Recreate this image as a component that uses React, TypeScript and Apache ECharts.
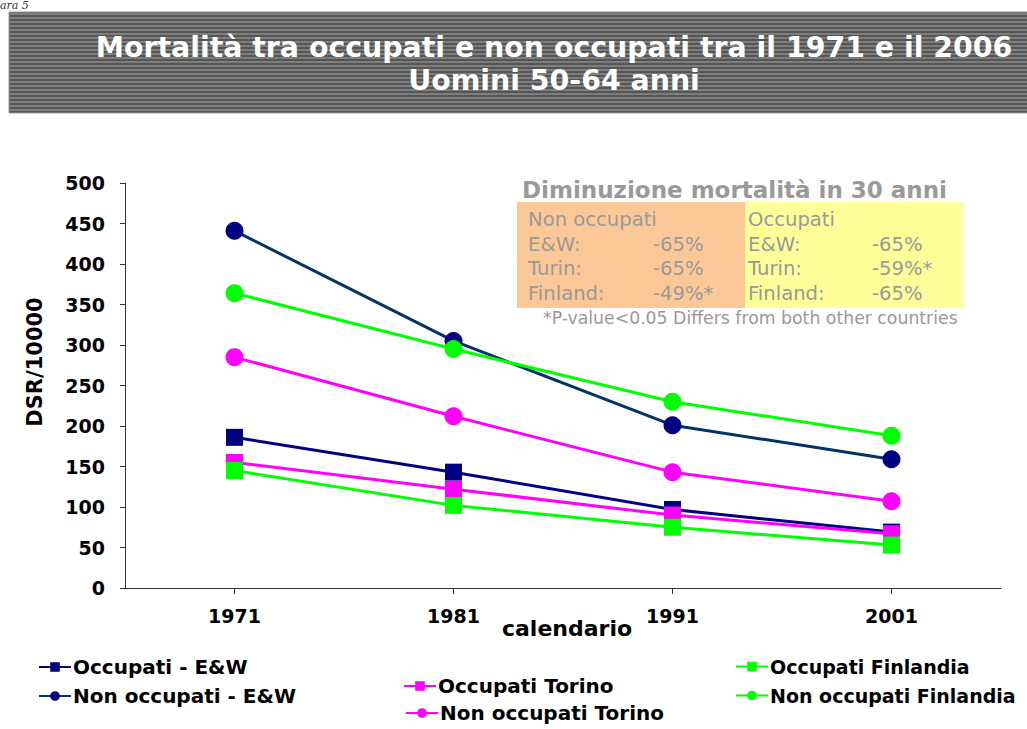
import React, { useEffect, useRef } from 'react';
import * as echarts from 'echarts';

const categories = ['1971', '1981', '1991', '2001'];
const occupatiEW = [186, 143, 97, 69];
const nonOccupatiEW = [441, 305, 201, 159];
const occupatiTorino = [155, 122, 90, 67];
const nonOccupatiTorino = [285, 212, 143, 107];
const occupatiFinlandia = [145, 102, 75, 53];
const nonOccupatiFinlandia = [364, 295, 230, 188];

const titleLines = ['Mortalità tra occupati e non occupati tra il 1971 e il 2006', 'Uomini 50-64 anni'];
const boxTitle = 'Diminuzione mortalità in 30 anni';
const nonOccHeader = 'Non occupati';
const occHeader = 'Occupati';
const countryLabels = ['E&W:', 'Turin:', 'Finland:'];
const nonOccChanges = ['-65%', '-65%', '-49%*'];
const occChanges = ['-65%', '-59%*', '-65%'];
const footnote = '*P-value<0.05 Differs from both other countries';

const FONT = '"DejaVu Sans", Verdana, sans-serif';

export default function App() {
  const ref = useRef<HTMLDivElement>(null);
  useEffect(() => {
    if (!ref.current) return;
    const chart = echarts.init(ref.current, null, { renderer: 'svg' });

    const series = [
      { name: 'Occupati - E&W', data: occupatiEW, symbol: 'rect', color: '#000080', line: '#000080' },
      { name: 'Non occupati - E&W', data: nonOccupatiEW, symbol: 'circle', color: '#000080', line: '#003366' },
      { name: 'Occupati Torino', data: occupatiTorino, symbol: 'rect', color: '#FF00FF', line: '#FF00FF' },
      { name: 'Non occupati Torino', data: nonOccupatiTorino, symbol: 'circle', color: '#FF00FF', line: '#FF00FF' },
      { name: 'Occupati Finlandia', data: occupatiFinlandia, symbol: 'rect', color: '#00FF00', line: '#00FF00' },
      { name: 'Non occupati Finlandia', data: nonOccupatiFinlandia, symbol: 'circle', color: '#00FF00', line: '#00FF00' },
    ].map((s) => ({
      type: 'line',
      name: s.name,
      data: s.data,
      symbol: s.symbol,
      symbolSize: s.symbol === 'rect' ? 17 : 18,
      itemStyle: { color: s.color },
      lineStyle: { color: s.line, width: 3 },
    }));

    const legendPos = [
      { name: 'Occupati - E&W', left: 38, top: 657, size: 20 },
      { name: 'Non occupati - E&W', left: 38, top: 686, size: 20 },
      { name: 'Occupati Torino', left: 403, top: 676, size: 20 },
      { name: 'Non occupati Torino', left: 405, top: 703, size: 20 },
      { name: 'Occupati Finlandia', left: 735, top: 657, size: 19 },
      { name: 'Non occupati Finlandia', left: 735, top: 686, size: 19 },
    ];

    const graphic: any[] = [];
    // partial caption at top-left
    graphic.push({
      type: 'text', x: 0, y: 0,
      style: { text: 'ara 5', font: 'italic 11px "DejaVu Serif", serif', fill: '#333' },
    });
    // banner
    graphic.push({
      type: 'rect', shape: { x: 9, y: 12, width: 1030, height: 101 },
      style: { fill: '#555555', stroke: '#9a9a9a', lineWidth: 1 },
    });
    for (let y = 13; y < 112; y += 4) {
      graphic.push({ type: 'rect', shape: { x: 10, y, width: 1020, height: 2 }, style: { fill: '#7e7e7e' } });
    }
    graphic.push({
      type: 'text', x: 554, y: 47,
      style: { text: titleLines[0], font: `bold 28.4px ${FONT}`, fill: '#fff', align: 'center', verticalAlign: 'middle' },
    });
    graphic.push({
      type: 'text', x: 554, y: 80,
      style: { text: titleLines[1], font: `bold 28.4px ${FONT}`, fill: '#fff', align: 'center', verticalAlign: 'middle' },
    });
    // table box
    graphic.push({
      type: 'text', x: 522, y: 190,
      style: { text: boxTitle, font: `bold 23px ${FONT}`, fill: '#999999', verticalAlign: 'middle' },
    });
    graphic.push({ type: 'rect', shape: { x: 517, y: 202, width: 228, height: 106 }, style: { fill: '#FCC898' } });
    graphic.push({ type: 'rect', shape: { x: 745, y: 202, width: 218, height: 106 }, style: { fill: '#FFFF99' } });
    const rowY = [244, 268, 293];
    const TF = `19.6px ${FONT}`;
    graphic.push({
      type: 'text', x: 528, y: 219,
      style: { text: nonOccHeader, font: TF, fill: '#999999', verticalAlign: 'middle' },
    });
    graphic.push({
      type: 'text', x: 748, y: 219,
      style: { text: occHeader, font: TF, fill: '#999999', verticalAlign: 'middle' },
    });
    countryLabels.forEach((c, i) => {
      graphic.push({ type: 'text', x: 528, y: rowY[i], style: { text: c, font: TF, fill: '#999999', verticalAlign: 'middle' } });
      graphic.push({ type: 'text', x: 653, y: rowY[i], style: { text: nonOccChanges[i], font: TF, fill: '#999999', verticalAlign: 'middle' } });
      graphic.push({ type: 'text', x: 748, y: rowY[i], style: { text: c, font: TF, fill: '#999999', verticalAlign: 'middle' } });
      graphic.push({ type: 'text', x: 872, y: rowY[i], style: { text: occChanges[i], font: TF, fill: '#999999', verticalAlign: 'middle' } });
    });
    graphic.push({
      type: 'text', x: 543, y: 318,
      style: { text: footnote, font: `17.3px ${FONT}`, fill: '#999999', verticalAlign: 'middle' },
    });
    // axis names
    graphic.push({
      type: 'text', x: 35, y: 362, rotation: Math.PI / 2,
      style: { text: 'DSR/10000', font: `bold 21px ${FONT}`, fill: '#000', align: 'center', verticalAlign: 'middle' },
    });
    graphic.push({
      type: 'text', x: 567, y: 628,
      style: { text: 'calendario', font: `bold 22px ${FONT}`, fill: '#000', align: 'center', verticalAlign: 'middle' },
    });

    chart.setOption({
      animation: false,
      backgroundColor: '#ffffff',
      grid: { left: 125, right: 26, top: 183, bottom: 141, containLabel: false },
      xAxis: {
        type: 'category',
        data: categories,
        boundaryGap: true,
        axisLine: { show: true, lineStyle: { color: '#333', width: 1 } },
        axisTick: { show: true, alignWithLabel: true, length: 6, lineStyle: { color: '#333' } },
        axisLabel: { fontFamily: FONT, fontWeight: 'bold', fontSize: 19, color: '#000', margin: 18 },
        splitLine: { show: false },
      },
      yAxis: {
        type: 'value',
        min: 0,
        max: 500,
        interval: 50,
        axisLine: { show: true, lineStyle: { color: '#333', width: 1 } },
        axisTick: { show: true, length: 5, lineStyle: { color: '#333' } },
        axisLabel: { fontFamily: FONT, fontWeight: 'bold', fontSize: 19, color: '#000', margin: 20 },
        splitLine: { show: false },
      },
      legend: legendPos.map((l) => ({
        data: [l.name],
        left: l.left,
        top: l.top,
        padding: 0,
        itemWidth: 32,
        itemHeight: 12,
        selectedMode: false,
        textStyle: { fontFamily: FONT, fontWeight: 'bold', fontSize: l.size, color: '#000', padding: [0, 0, 0, -3] },
      })),
      graphic,
      series,
    });
    return () => chart.dispose();
  }, []);
  return (
    <div
      ref={ref}
      style={{ position: 'fixed', left: 0, top: 0, width: 1027, height: 729, background: '#fff' }}
    />
  );
}
